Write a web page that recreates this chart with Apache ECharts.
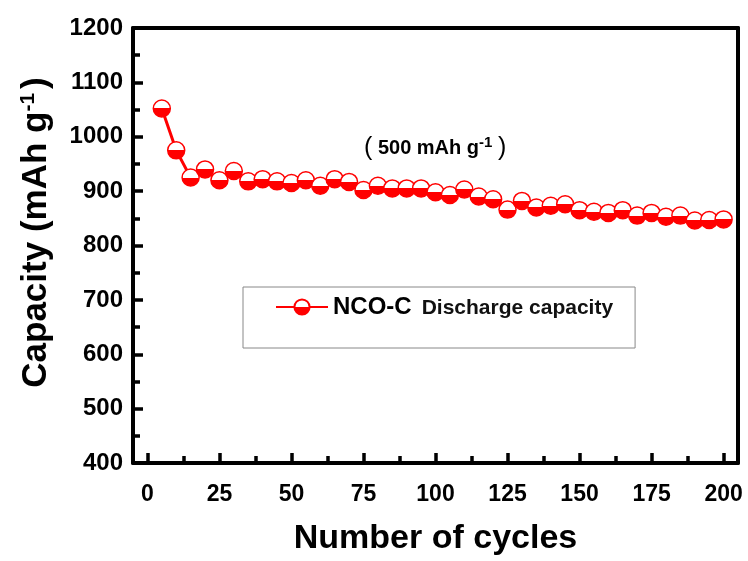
<!DOCTYPE html>
<html>
<head>
<meta charset="utf-8">
<script src="https://cdn.jsdelivr.net/npm/echarts@6/dist/echarts.min.js"></script>
<style>
  html, body { margin: 0; padding: 0; background: #fff; }
  #chart { width: 748px; height: 561px; }
</style>
</head>
<body>
<div id="chart"></div>
<script>
// data
const cycles = [5, 10, 15, 20, 25, 30, 35, 40, 45, 50, 55, 60, 65, 70, 75, 80, 85, 90, 95, 100,
  105, 110, 115, 120, 125, 130, 135, 140, 145, 150, 155, 160, 165, 170, 175, 180, 185, 190, 195, 200]
const capacity = [1052, 975, 925, 940, 920, 937, 918, 922, 918, 915, 920, 910, 922, 917, 902, 910, 905, 905, 905, 898,
  893, 903, 890, 885, 866, 882, 870, 873, 876, 865, 862, 860, 865, 855, 860, 853, 855, 846, 847, 848]
const xMajorTicks = [0, 25, 50, 75, 100, 125, 150, 175, 200]
const xMinorTicks = [12.5, 37.5, 62.5, 87.5, 112.5, 137.5, 162.5, 187.5]

const font = '"Liberation Sans", Arial, sans-serif'
const red = '#ff0000'

// half filled marker: white top, red bottom
const halfFill = new echarts.graphic.LinearGradient(0, 0, 0, 1, [
  { offset: 0, color: '#ffffff' },
  { offset: 0.5, color: '#ffffff' },
  { offset: 0.5, color: red },
  { offset: 1, color: red }
])

const chart = echarts.init(document.getElementById('chart'))

chart.setOption({
  animation: false,
  backgroundColor: '#fff',
  grid: {
    left: 133,
    right: 10,
    top: 28,
    bottom: 96
  },
  legend: {
    left: 243,
    top: 287,
    padding: [8, 22, 29, 32],
    borderColor: '#888',
    borderWidth: 1,
    borderRadius: 0,
    itemWidth: 52,
    itemHeight: 19,
    itemGap: 0,
    selectedMode: false,
    formatter: () => '{a|NCO-C}{b|Discharge capacity}',
    textStyle: {
      rich: {
        a: { fontFamily: font, fontWeight: 'bold', fontSize: 24, color: '#000' },
        b: { fontFamily: font, fontWeight: 'bold', fontSize: 21, color: '#111', padding: [3, 0, 0, 10] }
      }
    }
  },
  xAxis: [
    {
      type: 'value',
      min: -5,
      max: 205,
      name: 'Number of cycles',
      nameLocation: 'middle',
      nameGap: 59,
      nameTextStyle: { fontFamily: font, fontWeight: 'bold', fontSize: 34, color: '#000' },
      axisLine: { show: true, onZero: false, lineStyle: { color: '#000', width: 4 } },
      axisTick: { show: true, inside: true, length: 10, lineStyle: { width: 3.5, color: '#000' }, customValues: xMajorTicks },
      axisLabel: {
        customValues: xMajorTicks,
        margin: 20,
        fontFamily: font,
        fontWeight: 'bold',
        fontSize: 23,
        color: '#000'
      },
      splitLine: { show: false }
    },
    {
      // minor ticks
      type: 'value',
      min: -5,
      max: 205,
      position: 'bottom',
      axisLine: { show: false, onZero: false },
      axisTick: { show: true, inside: true, length: 7, lineStyle: { width: 3.5, color: '#000' }, customValues: xMinorTicks },
      axisLabel: { show: false },
      splitLine: { show: false }
    },
    {
      // top frame line
      type: 'value',
      min: -5,
      max: 205,
      position: 'top',
      axisLine: { show: true, onZero: false, lineStyle: { color: '#000', width: 4 } },
      axisTick: { show: false },
      axisLabel: { show: false },
      splitLine: { show: false }
    }
  ],
  yAxis: [
    {
      type: 'value',
      min: 400,
      max: 1200,
      interval: 100,
      name: 'Capacity (mAh g{sup|-1})',
      nameLocation: 'middle',
      nameGap: 78,
      nameTextStyle: {
        fontFamily: font,
        fontWeight: 'bold',
        fontSize: 35,
        color: '#000',
        padding: [0, 0, 0, 26],
        rich: {
          sup: { fontFamily: font, fontWeight: 'bold', fontSize: 21, color: '#000', verticalAlign: 'top', padding: [0, 4, 16, 0] }
        }
      },
      axisLine: { show: true, onZero: false, lineStyle: { color: '#000', width: 4 } },
      axisTick: { show: true, inside: true, length: 10, lineStyle: { width: 3.5, color: '#000' } },
      minorTick: { show: true, splitNumber: 2, length: 7, lineStyle: { width: 3.5, color: '#000' } },
      axisLabel: {
        margin: 10,
        formatter: v => String(v),
        fontFamily: font,
        fontWeight: 'bold',
        fontSize: 24,
        color: '#000'
      },
      splitLine: { show: false }
    },
    {
      // right frame line
      type: 'value',
      min: 400,
      max: 1200,
      position: 'right',
      axisLine: { show: true, onZero: false, lineStyle: { color: '#000', width: 4 } },
      axisTick: { show: false },
      axisLabel: { show: false },
      splitLine: { show: false }
    }
  ],
  graphic: [
    {
      type: 'text',
      left: 364,
      top: 135,
      style: {
        text: '({t| 500 mAh g}{s|-1}{t| })',
        fontFamily: font,
        fontSize: 25,
        fill: '#000',
        rich: {
          t: { fontFamily: font, fontWeight: 'bold', fontSize: 20, fill: '#000' },
          s: { fontFamily: font, fontWeight: 'bold', fontSize: 15, fill: '#000', verticalAlign: 'top', padding: [0, 0, 12, 0] }
        }
      }
    }
  ],
  series: [
    {
      name: 'NCO-C Discharge capacity',
      type: 'line',
      data: cycles.map((c, i) => [c, capacity[i]]),
      symbol: 'circle',
      symbolSize: 17,
      lineStyle: { color: red, width: 3 },
      itemStyle: { color: halfFill, borderColor: red, borderWidth: 1.5 },
      z: 3
    }
  ]
})
</script>
</body>
</html>
